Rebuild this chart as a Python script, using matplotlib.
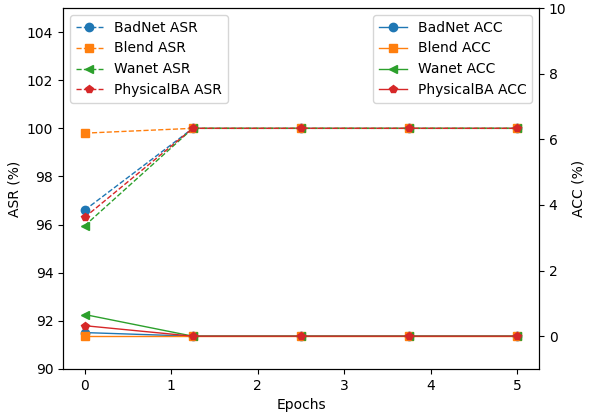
import matplotlib
matplotlib.use("Agg")
import matplotlib.pyplot as plt

# ── Data ───────────────────────────────────────────────────────────────────────
epochs = [0, 1.25, 2.5, 3.75, 5]

badnet_asr = [96.6, 100, 100, 100, 100]
blend_asr = [99.8, 100, 100, 100, 100]
wanet_asr = [95.95, 100, 100, 100, 100]
physicalba_asr = [96.3, 100, 100, 100, 100]

badnet_acc = [0.11, 0, 0, 0, 0]
blend_acc = [0.0, 0, 0, 0, 0]
wanet_acc = [0.66, 0, 0, 0, 0]
physicalba_acc = [0.32, 0, 0, 0, 0]

# ── Plot ───────────────────────────────────────────────────────────────────────
fig = plt.figure(figsize=(5.92, 4.12), dpi=100)
ax = fig.add_axes([63 / 592, 1 - 369 / 412, (539 - 63) / 592, (369 - 8) / 412])
ax2 = ax.twinx()

kw = dict(lw=1.0, ms=6)
ax.plot(epochs, badnet_asr, "o--", color="C0", label="BadNet ASR", **kw)
ax.plot(epochs, blend_asr, "s--", color="C1", label="Blend ASR", **kw)
ax.plot(epochs, wanet_asr, "<--", color="C2", label="Wanet ASR", **kw)
ax.plot(epochs, physicalba_asr, "p--", color="C3", label="PhysicalBA ASR", **kw)

ax2.plot(epochs, badnet_acc, "o-", color="C0", label="BadNet ACC", **kw)
ax2.plot(epochs, blend_acc, "s-", color="C1", label="Blend ACC", **kw)
ax2.plot(epochs, wanet_acc, "<-", color="C2", label="Wanet ACC", **kw)
ax2.plot(epochs, physicalba_acc, "p-", color="C3", label="PhysicalBA ACC", **kw)

ax.set_ylim(90, 105)
ax2.set_ylim(-1, 10)
ax.set_xlabel("Epochs")
ax.set_ylabel("ASR (%)")
ax2.set_ylabel("ACC (%)")

ax.legend(loc="upper left")
ax2.legend(loc="upper right")

plt.savefig("out.png", dpi=100)
plt.close()
